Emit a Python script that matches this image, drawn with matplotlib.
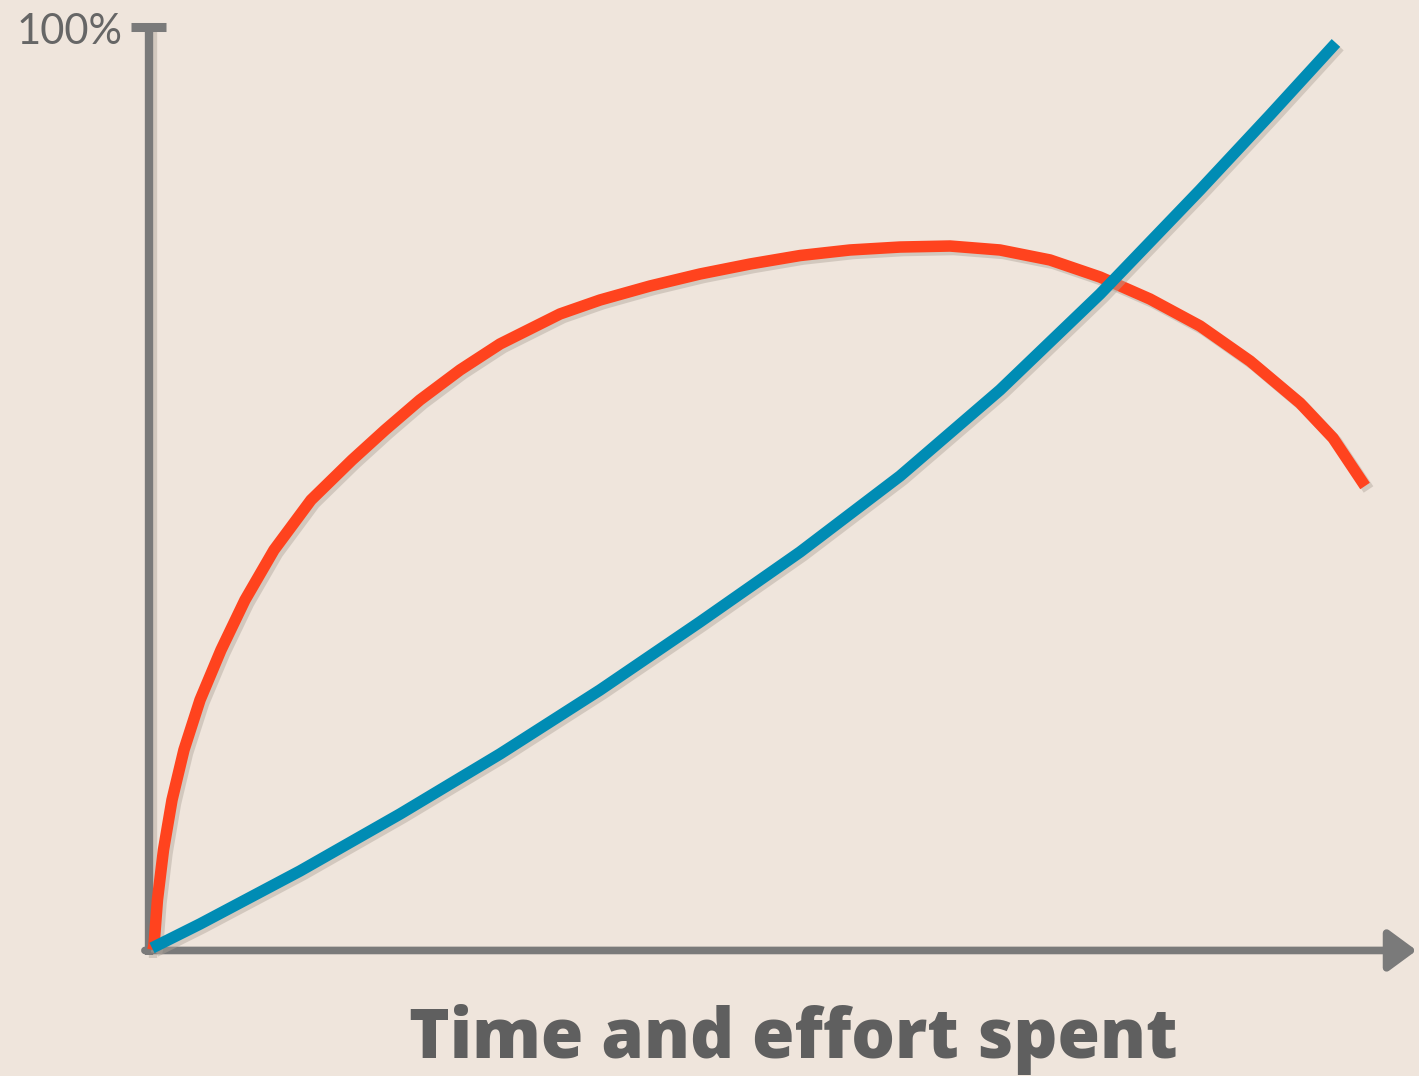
import matplotlib
matplotlib.use("Agg")
import matplotlib.pyplot as plt
import matplotlib.patheffects as pe

# values in % of the axis range (x: time/effort, y: value)
red_x = [0.08, 0.17, 0.46, 0.97, 1.69, 2.70, 4.06, 5.83, 7.86, 10.31, 13.44, 16.91,
         19.70, 22.65, 26.04, 29.42, 34.49, 37.87, 42.10, 46.32, 50.55, 54.78,
         59.00, 63.23, 67.46, 71.68, 75.91, 80.14, 84.36, 88.59, 92.82, 97.04,
         99.83, 102.54]
red_y = [0.0, 0.54, 5.42, 10.83, 16.25, 21.67, 27.09, 32.50, 37.92, 43.34, 48.75, 53.09,
         56.34, 59.59, 62.84, 65.66, 68.91, 70.42, 71.94, 73.24, 74.32, 75.24,
         75.84, 76.16, 76.27, 75.84, 74.76, 72.91, 70.53, 67.61, 63.81, 59.26,
         55.47, 50.27]

blue_x = [0, 4.06, 12.51, 20.96, 29.42, 37.87, 46.32, 54.78, 63.23, 71.68,
          80.14, 88.59, 94.51, 100.08]
blue_y = [0.22, 2.82, 8.56, 14.73, 21.24, 28.17, 35.54, 43.12, 51.35, 60.67,
          71.07, 82.34, 90.47, 98.27]

y_tick_label = "100%"
x_label = "Time and effort spent"

bg = "#efe5dc"
gray = "#7a7a7a"

W, H = 1419, 1076
fig = plt.figure(figsize=(W / 100, H / 100), dpi=100, facecolor=bg)
ax = fig.add_axes([152 / W, (H - 950) / H, 1183 / W, 923 / H])
ax.set_facecolor(bg)
ax.set_xlim(0, 100)
ax.set_ylim(0, 100)
for s in ax.spines.values():
    s.set_visible(False)
ax.set_xticks([])
ax.set_yticks([])

shadow = [pe.SimpleLineShadow(offset=(2.5, -2.5), shadow_color="#b0a59b", alpha=0.45),
          pe.Normal()]

# axis lines (y with a cap at 100%, x with an arrow)
ax.plot([-0.25, -0.25], [-0.5, 100.05], color=gray, lw=6, clip_on=False,
        solid_capstyle="butt", path_effects=shadow, zorder=2)
ax.plot([-1.78, 1.2], [100.05, 100.05], color=gray, lw=6.5, clip_on=False,
        solid_capstyle="butt", zorder=2)
ax.annotate("", xy=(106.9, -0.05), xytext=(-0.6, -0.05),
            arrowprops=dict(arrowstyle="-|>,head_length=1.7,head_width=1.25",
                            color=gray, lw=5.5, shrinkA=0, shrinkB=0),
            annotation_clip=False, zorder=2)

ax.plot(red_x, red_y, color="#ff431e", lw=8.3, clip_on=False,
        solid_capstyle="butt", solid_joinstyle="round", path_effects=shadow, zorder=3)
ax.plot(blue_x, blue_y, color="#008cb4", lw=8.3, clip_on=False,
        solid_capstyle="butt", solid_joinstyle="round", path_effects=shadow, zorder=4)

fig.text(70 / W, 1 - 44 / H, y_tick_label, ha="center", va="baseline",
         fontsize=30, color="#666666", family="Lato", fontweight="normal")
fig.text(793 / W, 1 - 1058 / H, x_label, ha="center", va="baseline",
         fontsize=49.5, color="#5f5f5f", family="Open Sans", fontweight=800)

fig.savefig("out.png", dpi=100, facecolor=bg)
